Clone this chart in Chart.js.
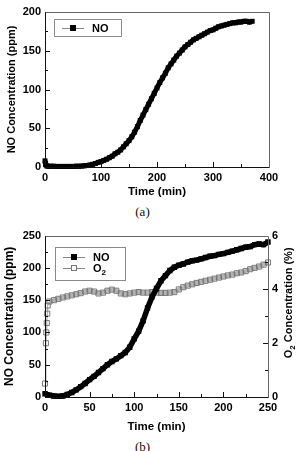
<!DOCTYPE html>
<html>
<head>
<meta charset="utf-8">
<script src="https://cdn.jsdelivr.net/npm/chart.js@4/dist/chart.umd.min.js"></script>
<style>
  body { margin:0; background:#fff; width:297px; height:451px; overflow:hidden; position:relative; }
  canvas { position:absolute; left:0; }
  .cap { position:absolute; width:297px; left:-6px; text-align:center; font:13px "Liberation Serif","Times New Roman",serif; color:#111; line-height:15px; }
</style>
</head>
<body>
<canvas id="cA" width="297" height="200" style="top:0"></canvas>
<div class="cap" style="top:204px">(a)</div>
<canvas id="cB" width="297" height="210" style="top:225px"></canvas>
<div class="cap" style="top:439px">(b)</div>
<script>
// (a) NO vs time
const timeA = [0,1,3,5,10,15,20,25,30,35,40,45,50,55,60,65,70,75,80,85,90,95,100,105,110,115,120,125,130,135,140,145,150,155,160,165,170,175,180,185,190,195,200,205,210,215,220,225,230,235,240,245,250,255,260,265,270,275,280,285,290,295,300,305,310,315,320,325,330,335,340,345,350,355,360,365,370];
const noA   = [8,3,1.5,1,1,1,0.8,0.8,0.8,0.8,0.8,0.8,0.8,1,1,1.2,1.5,2,2.5,3.5,4.5,6,7,8.5,10,12,14,17,19,22,26,30,34,39,45,52,60,67,74,81,88,95,102,109,115,121,128,133,138,143,147,151,155,158,161,164,166,168,170,172,174,176,177,179,181,182,183,184,185,186,186,187,187,188,188,187,188];

// (b) NO and O2 vs time
const timeB = [0,5,10,15,20,25,30,35,40,45,50,55,60,65,70,75,80,85,90,95,100,105,110,115,120,125,130,135,140,145,150,155,160,165,170,175,180,185,190,195,200,205,210,215,220,225,230,235,240,245,250];
const noB   = [5,3,1.5,1,1.5,4,7,11,16,21,27,32,38,44,50,55,59,64,69,77,90,102,118,138,155,168,180,188,196,201,204,206,209,211,212,214,216,218,219,221,222,224,226,228,230,232,233,236,237,236,240];
const timeO2 = [0,1,1.5,2,2.5,3,5,10,15,20,25,30,35,40,45,50,55,60,65,70,75,80,85,90,95,100,105,110,115,120,125,130,135,140,145,150,155,160,165,170,175,180,185,190,195,200,205,210,215,220,225,230,235,240,245,250];
const o2B    = [0.5,2.0,2.4,2.75,3.1,3.4,3.55,3.6,3.65,3.7,3.74,3.78,3.82,3.86,3.92,3.95,3.92,3.85,3.88,3.95,3.99,3.95,3.85,3.82,3.85,3.88,3.9,3.88,3.88,3.9,3.88,3.87,3.87,3.88,3.9,4.0,4.08,4.14,4.19,4.24,4.28,4.32,4.36,4.4,4.44,4.48,4.52,4.55,4.6,4.63,4.68,4.75,4.8,4.85,4.92,5.0];

const FONT = '"Liberation Sans", Arial, sans-serif';
const tickFont = {family:FONT, weight:'bold', size:11};

// text with "_x" subscript, e.g. "O_2 Concentration (%)"
function subText(ctx, txt, x, y, size) {
  const parts = txt.split('_');
  ctx.font = 'bold ' + size + 'px ' + FONT;
  ctx.fillText(parts[0], x, y);
  if (parts.length < 2) return;
  let cx = x + ctx.measureText(parts[0]).width;
  ctx.font = 'bold ' + Math.round(size*0.7) + 'px ' + FONT;
  const s = parts[1][0];
  ctx.fillText(s, cx, y + size*0.3);
  cx += ctx.measureText(s).width;
  ctx.font = 'bold ' + size + 'px ' + FONT;
  ctx.fillText(parts[1].slice(1), cx, y);
}

// plot box + inward ticks
const boxFrame = {
  id: 'boxFrame',
  afterDatasetsDraw(chart, args, o) {
    const {ctx, chartArea: a} = chart;
    ctx.save();
    ctx.strokeStyle = '#111'; ctx.lineWidth = 1;
    (o.ticks || []).forEach(t => {
      const s = chart.scales[t.id];
      for (let v = s.min; v <= s.max + 1e-9; v += t.minor) {
        const major = s.ticks.some(k => Math.abs(k.value - v) < 1e-9);
        const len = major ? 5 : 3;
        const p = Math.round(s.getPixelForValue(v)) + 0.5;
        ctx.beginPath();
        if (t.side === 'bottom') { ctx.moveTo(p, a.bottom); ctx.lineTo(p, a.bottom - len); }
        else if (t.side === 'left') { ctx.moveTo(a.left, p); ctx.lineTo(a.left + len, p); }
        else { ctx.moveTo(a.right, p); ctx.lineTo(a.right - len, p); }
        ctx.stroke();
      }
    });
    const l = Math.round(a.left) + 0.5, r = Math.round(a.right) + 0.5;
    const tp = Math.round(a.top) + 0.5, b = Math.round(a.bottom) + 0.5;
    ctx.strokeStyle = '#666';
    ctx.beginPath(); ctx.moveTo(l, tp); ctx.lineTo(r, tp); ctx.lineTo(r, b); ctx.stroke();
    ctx.strokeStyle = '#111';
    ctx.beginPath(); ctx.moveTo(l, tp); ctx.lineTo(l, b); ctx.lineTo(r, b); ctx.stroke();
    if (o.rightTitle) {
      ctx.fillStyle = '#000';
      ctx.translate(o.rightTitle.x, o.rightTitle.y);
      ctx.rotate(-Math.PI/2);
      ctx.font = 'bold 11px ' + FONT;
      ctx.textBaseline = 'middle';
      const w = ctx.measureText(o.rightTitle.text.replace('_','')).width - 2;
      subText(ctx, o.rightTitle.text, -w/2, 0, 11);
    }
    ctx.restore();
  }
};

// framed legend
const boxLegend = {
  id: 'boxLegend',
  afterDraw(chart, args, o) {
    const ctx = chart.ctx;
    ctx.save();
    ctx.strokeStyle = '#8a8a8a'; ctx.lineWidth = 1;
    ctx.strokeRect(o.x + 0.5, o.y + 0.5, o.w, o.h);
    chart.data.datasets.forEach((ds, i) => {
      const y = Math.round(o.y + o.first + i * o.step) + 0.5;
      const x0 = o.x + 8, cx = x0 + 11;
      ctx.strokeStyle = '#888';
      ctx.beginPath(); ctx.moveTo(x0, y); ctx.lineTo(x0 + 22, y); ctx.stroke();
      ctx.fillStyle = ds.legendFill;
      ctx.fillRect(cx - 3, y - 3.5, 6, 6);
      ctx.strokeStyle = ds.pointBorderColor;
      ctx.strokeRect(cx - 2.5, y - 3, 5, 5);
      ctx.fillStyle = '#000';
      ctx.textBaseline = 'middle';
      subText(ctx, ds.legendText, x0 + 30, y + 0.5, 11);
    });
    ctx.restore();
  }
};

function axis(min, max, step, extra) {
  return Object.assign({
    type:'linear', min, max,
    ticks:{stepSize:step, font:tickFont, color:'#000', padding:4},
    grid:{display:false, drawTicks:false},
    border:{display:false}
  }, extra);
}

// (a)
new Chart(document.getElementById('cA'), {
  type:'line',
  data:{datasets:[{
    label:'NO', legendText:'NO', legendFill:'#000',
    data: timeA.map((t,i) => ({x:t, y:noA[i]})),
    borderColor:'#000', borderWidth:5, pointStyle:'rect', pointRadius:3.5,
    pointBackgroundColor:'#000', pointBorderColor:'#000', pointBorderWidth:0, clip:4
  }]},
  options:{
    responsive:false, animation:false,
    layout:{padding:{top:12, right:28, left:0, bottom:0}},
    plugins:{
      legend:{display:false}, tooltip:{enabled:false},
      boxFrame:{ticks:[{id:'x', minor:50, side:'bottom'}, {id:'y', minor:25, side:'left'}]},
      boxLegend:{x:54, y:19, w:67, h:17, first:8.5, step:11}
    },
    scales:{
      x: axis(0, 400, 100, {
        title:{display:true, text:'Time (min)', color:'#000', font:{family:FONT, weight:'bold', size:11.5}, padding:{top:0, bottom:1}},
        afterFit: s => { s.height = 33; }
      }),
      y: axis(0, 200, 50, {
        title:{display:true, text:'NO Concentration (ppm)', color:'#000', font:{family:FONT, weight:'bold', size:11}, padding:{top:5, bottom:0}},
        afterFit: s => { s.width = 45; }
      })
    }
  },
  plugins:[boxFrame, boxLegend]
});

// (b)
new Chart(document.getElementById('cB'), {
  type:'line',
  data:{datasets:[{
    label:'NO', legendText:'NO', legendFill:'#000',
    data: timeB.map((t,i) => ({x:t, y:noB[i]})),
    yAxisID:'y',
    borderColor:'#000', borderWidth:5.5, pointStyle:'rect', pointRadius:3.8,
    pointBackgroundColor:'#000', pointBorderColor:'#000', pointBorderWidth:0, clip:4
  }, {
    label:'O2', legendText:'O_2', legendFill:'#fff',
    data: timeO2.map((t,i) => ({x:t, y:o2B[i]})),
    yAxisID:'y2',
    borderColor:'#b4b4b4', borderWidth:4,
    segment:{borderWidth: c => c.p1.parsed.x <= 5 ? 1 : 4, borderColor: c => c.p1.parsed.x <= 5 ? '#999' : '#b4b4b4'},
    pointStyle:'rect', pointRadius:3.6,
    pointBackgroundColor:'rgba(255,255,255,0)', pointBorderColor:'#777', pointBorderWidth:1, clip:4
  }]},
  options:{
    responsive:false, animation:false,
    layout:{padding:{top:10, right:0, left:0, bottom:0}},
    plugins:{
      legend:{display:false}, tooltip:{enabled:false},
      boxFrame:{
        ticks:[{id:'x', minor:25, side:'bottom'}, {id:'y', minor:25, side:'left'}, {id:'y2', minor:1, side:'right'}],
        rightTitle:{text:'O_2 Concentration (%)', x:289, y:78}
      },
      boxLegend:{x:55, y:22, w:70, h:33, first:9.5, step:11}
    },
    scales:{
      x: axis(0, 250, 50, {
        title:{display:true, text:'Time (min)', color:'#000', font:{family:FONT, weight:'bold', size:11.5}, padding:{top:0, bottom:1}},
        afterFit: s => { s.height = 38; }
      }),
      y: axis(0, 250, 50, {
        title:{display:true, text:'NO Concentration (ppm)', color:'#000', font:{family:FONT, weight:'bold', size:12}, padding:{top:2, bottom:0}},
        afterFit: s => { s.width = 45; }
      }),
      y2: axis(0, 6, 2, {
        position:'right',
        afterFit: s => { s.width = 29; }
      })
    }
  },
  plugins:[boxFrame, boxLegend]
});
</script>
</body>
</html>
